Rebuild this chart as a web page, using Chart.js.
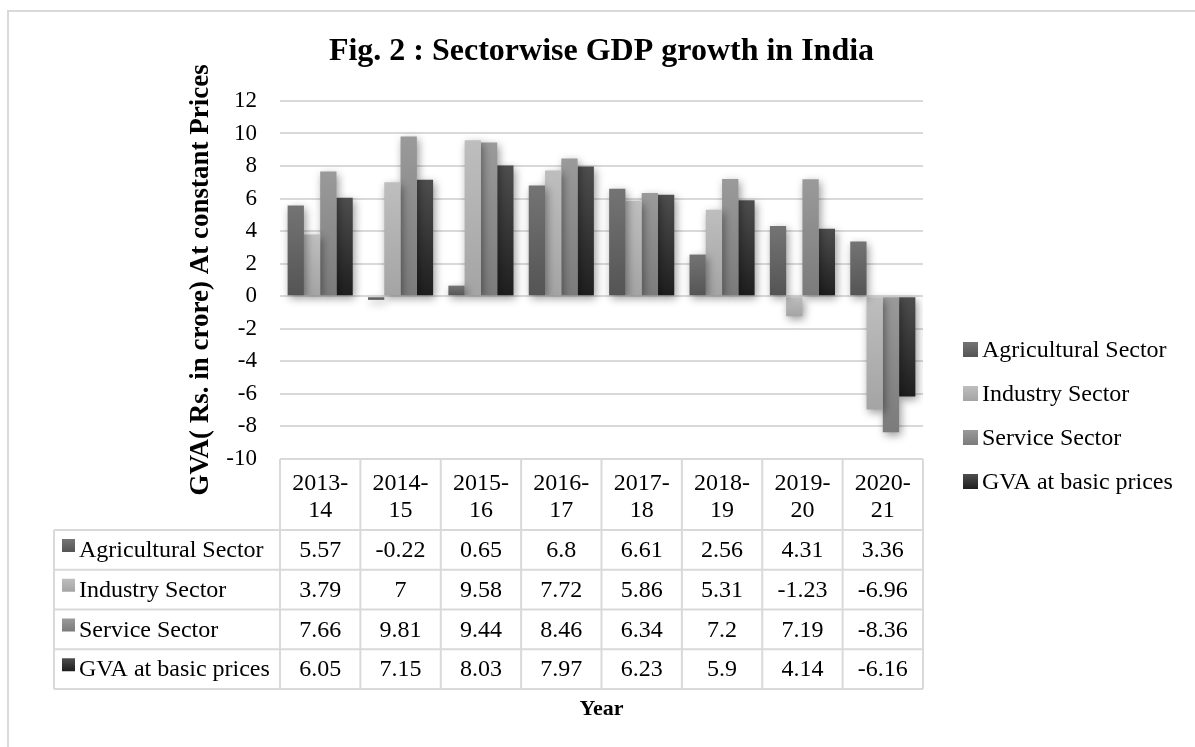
<!DOCTYPE html>
<html>
<head>
<meta charset="utf-8">
<title>Sectorwise GDP growth in India</title>
<script src="https://cdn.jsdelivr.net/npm/chart.js@4.4.1/dist/chart.umd.min.js"></script>
<style>
    body { margin: 0; background: #fff; }
    canvas { display: block; }
</style>
</head>
<body>
<canvas id="chartSectores" width="1195" height="747"></canvas>
<script>
const years = ['2013-14', '2014-15', '2015-16', '2016-17', '2017-18', '2018-19', '2019-20', '2020-21'];
const agricultural = [5.57, -0.22, 0.65, 6.8, 6.61, 2.56, 4.31, 3.36];
const industry = [3.79, 7, 9.58, 7.72, 5.86, 5.31, -1.23, -6.96];
const service = [7.66, 9.81, 9.44, 8.46, 6.34, 7.2, 7.19, -8.36];
const gvaBasic = [6.05, 7.15, 8.03, 7.97, 6.23, 5.9, 4.14, -6.16];
const seriesNames = ['Agricultural Sector', 'Industry Sector', 'Service Sector', 'GVA at basic prices'];
const yMin = -10;
const yMax = 12;
const yStep = 2;

const SERIF = '"Liberation Serif", "Times New Roman", serif';
const GRID = '#d9d9d9';

// tonos de gris [arriba, abajo] de cada serie
const shades = [
    ['#747474', '#545454'],
    ['#bebebe', '#a4a4a4'],
    ['#9a9a9a', '#7b7b7b'],
    ['#4e4e4e', '#1e1e1e']
];

const barFill = (top, bottom) => (ctx) => {
    const chart = ctx.chart;
    const y = chart.scales.y;
    if (ctx.type !== 'data' || !y || !chart.chartArea) return top;
    const y0 = y.getPixelForValue(0);
    const y1 = y.getPixelForValue(ctx.raw);
    const g = chart.ctx.createLinearGradient(0, Math.min(y0, y1), 0, Math.max(y0, y1) + 0.01);
    g.addColorStop(0, top);
    g.addColorStop(1, bottom);
    return g;
};

const squareFill = (ctx, i, x, y, s) => {
    const g = ctx.createLinearGradient(0, y, 0, y + s);
    g.addColorStop(0, shades[i][0]);
    g.addColorStop(1, shades[i][1]);
    ctx.fillStyle = g;
    ctx.fillRect(x, y, s, s);
};

const marco = {
    id: 'marco',
    beforeDraw(chart) {
        const ctx = chart.ctx;
        ctx.save();
        ctx.strokeStyle = GRID;
        ctx.lineWidth = 2;
        ctx.strokeRect(8, 11, 1400, 900);
        ctx.restore();
    }
};

const sombra = {
    id: 'sombra',
    beforeDatasetsDraw(chart) {
        const ctx = chart.ctx;
        ctx.save();
        ctx.shadowColor = 'rgba(0,0,0,0.4)';
        ctx.shadowBlur = 8;
        ctx.shadowOffsetX = 2;
        ctx.shadowOffsetY = 3;
    },
    afterDatasetsDraw(chart) {
        chart.ctx.restore();
    }
};

// tabla de datos debajo del grafico y leyenda a la derecha
const tablaDatos = {
    id: 'tablaDatos',
    afterDraw(chart) {
        const ctx = chart.ctx;
        const area = chart.chartArea;
        const labels = chart.data.labels;
        const datasets = chart.data.datasets;
        const colW = (area.right - area.left) / labels.length;
        const tableLeft = 54;
        const headTop = area.bottom;
        const headBottom = headTop + 71;
        const rowH = 39.75;
        const tableBottom = headBottom + rowH * datasets.length;

        ctx.save();
        ctx.strokeStyle = GRID;
        ctx.lineWidth = 2;
        ctx.beginPath();
        ctx.moveTo(area.left, headTop);
        ctx.lineTo(area.right, headTop);
        for (let r = 0; r <= datasets.length; r++) {
            const y = headBottom + r * rowH;
            ctx.moveTo(tableLeft, y);
            ctx.lineTo(area.right, y);
        }
        ctx.moveTo(tableLeft, headBottom);
        ctx.lineTo(tableLeft, tableBottom);
        for (let c = 0; c <= labels.length; c++) {
            const x = area.left + c * colW;
            ctx.moveTo(x, headTop);
            ctx.lineTo(x, tableBottom);
        }
        ctx.stroke();

        ctx.fillStyle = '#000';
        ctx.font = '24px ' + SERIF;
        ctx.textAlign = 'center';
        ctx.textBaseline = 'alphabetic';
        labels.forEach((lab, i) => {
            const cx = chart.scales.x.getPixelForValue(i);
            const parts = lab.split('-');
            ctx.fillText(parts[0] + '-', cx, headTop + 31);
            ctx.fillText(parts[1], cx, headTop + 58);
        });

        datasets.forEach((ds, r) => {
            const rowTop = headBottom + r * rowH;
            squareFill(ctx, r, 62, rowTop + 9, 13);
            ctx.fillStyle = '#000';
            ctx.textAlign = 'left';
            ctx.fillText(ds.label, 79, rowTop + 27);
            ctx.textAlign = 'center';
            ds.data.forEach((v, i) => {
                ctx.fillText(String(v), chart.scales.x.getPixelForValue(i), rowTop + 27);
            });
        });

        // leyenda
        datasets.forEach((ds, r) => {
            const base = 357 + r * 44;
            squareFill(ctx, r, 963, base - 15, 15);
            ctx.fillStyle = '#000';
            ctx.textAlign = 'left';
            ctx.fillText(ds.label, 982, base);
        });
        ctx.restore();
    }
};

const values = [agricultural, industry, service, gvaBasic];

const canvas = document.getElementById('chartSectores');
const context = canvas.getContext('2d');

const chartSectores = new Chart(context, {
    type: 'bar',
    data: {
        labels: years,
        datasets: seriesNames.map((name, i) => ({
            label: name,
            data: values[i],
            backgroundColor: barFill(shades[i][0], shades[i][1]),
            borderWidth: 0,
            categoryPercentage: 0.81,
            barPercentage: 1.0
        }))
    },
    options: {
        responsive: false,
        animation: false,
        color: '#000',
        layout: {
            padding: { top: 14, left: 0, right: 272, bottom: 14.8 }
        },
        plugins: {
            legend: { display: false },
            tooltip: { enabled: false },
            title: {
                display: true,
                text: 'Fig. 2 : Sectorwise GDP growth in India',
                fullSize: false,
                color: '#000',
                font: { family: SERIF, size: 32, weight: 'bold' },
                padding: { top: 19, bottom: 29.5 }
            }
        },
        scales: {
            x: {
                grid: { display: false, drawTicks: false },
                border: { display: false },
                ticks: { display: false },
                title: {
                    display: true,
                    text: 'Year',
                    color: '#000',
                    font: { family: SERIF, size: 22, weight: 'bold' },
                    padding: { top: 236.8, bottom: 10 }
                }
            },
            y: {
                min: yMin,
                max: yMax,
                afterFit: (scale) => { scale.width = 280; },
                grid: { color: GRID, lineWidth: 2, drawTicks: false },
                border: { display: false },
                ticks: {
                    stepSize: yStep,
                    padding: 23,
                    color: '#000',
                    font: { family: SERIF, size: 23 }
                },
                title: {
                    display: true,
                    text: 'GVA( Rs. in crore) At constant Prices',
                    color: '#000',
                    font: { family: SERIF, size: 27, weight: 'bold' },
                    padding: { top: 184.8, bottom: 0 }
                }
            }
        }
    },
    plugins: [marco, sombra, tablaDatos]
});
</script>
</body>
</html>
